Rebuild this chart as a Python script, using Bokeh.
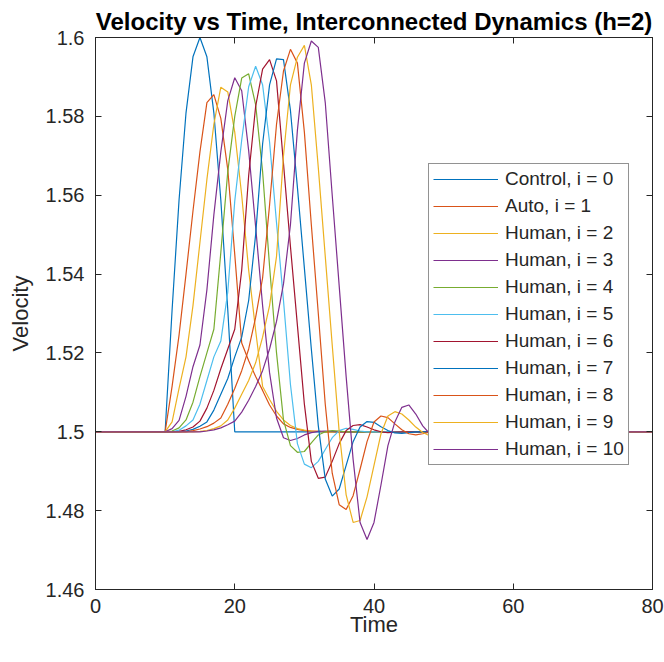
from bokeh.plotting import figure
from bokeh.models import (Range1d, FixedTicker, LinearAxis, CustomJSTickFormatter,
                          Legend, LegendItem)
from bokeh.embed import file_html
from bokeh.resources import INLINE

# ---- data (velocity samples, one per time unit, starting at t = 10) ----
time = list(range(0, 81))
baseline = 1.5
start_t = 10

control_0 = [1.5, 1.5309, 1.5588, 1.5809, 1.5951, 1.6, 1.5951, 1.5809, 1.5588, 1.5309, 1.5]
auto_1 = [1.5, 1.5115, 1.5245, 1.540, 1.556, 1.571, 1.5835, 1.5855, 1.5795, 1.5665,
          1.545, 1.5225, 1.518, 1.514, 1.5105, 1.5068, 1.504, 1.502, 1.5011, 1.5006,
          1.5003, 1.5002, 1.5001, 1.5]
human_2 = [1.5, 1.5025, 1.511, 1.519, 1.532, 1.548, 1.564, 1.578, 1.5874, 1.5862,
           1.576, 1.560, 1.541, 1.5257, 1.5115, 1.5082, 1.5052, 1.503, 1.5016, 1.5008,
           1.5004, 1.5002, 1.5001, 1.5]
human_3 = [1.5, 1.5008, 1.5029, 1.509, 1.5165, 1.522, 1.536, 1.555, 1.571, 1.584,
           1.5898, 1.5865, 1.5713, 1.552, 1.532, 1.515, 1.5035, 1.4985, 1.4978, 1.4983,
           1.4992, 1.4998, 1.5001, 1.5002, 1.5001, 1.5]
human_4 = [1.5, 1.5002, 1.501, 1.503, 1.5075, 1.514, 1.520, 1.526, 1.5455, 1.566,
           1.580, 1.5897, 1.5908, 1.583, 1.566, 1.542, 1.520, 1.503, 1.4965, 1.4948,
           1.495, 1.4972, 1.4992, 1.5, 1.5003, 1.5002, 1.5]
human_5 = [1.5, 1.5, 1.5004, 1.5015, 1.503, 1.507, 1.513, 1.519, 1.523, 1.5355,
           1.5585, 1.574, 1.5875, 1.5927, 1.588, 1.5735, 1.553, 1.5333, 1.512, 1.497,
           1.4918, 1.4909, 1.4925, 1.4955, 1.4985, 1.5003, 1.5009, 1.5006, 1.5002, 1.5]
human_6 = [1.5, 1.5, 1.5001, 1.5005, 1.5012, 1.5027, 1.506, 1.5105, 1.516, 1.521,
           1.526, 1.541, 1.565, 1.5825, 1.592, 1.5944, 1.589, 1.568, 1.547, 1.527,
           1.507, 1.4925, 1.4882, 1.4885, 1.4925, 1.497, 1.5003, 1.5016, 1.5018, 1.5012,
           1.5005, 1.5, 1.4998, 1.4999, 1.5]
human_7 = [1.5, 1.5, 1.5, 1.5002, 1.5006, 1.5014, 1.5025, 1.5055, 1.5095, 1.5135,
           1.519, 1.524, 1.5333, 1.55, 1.573, 1.588, 1.5946, 1.5944, 1.5815, 1.562,
           1.5415, 1.521, 1.5015, 1.488, 1.4837, 1.4855, 1.4915, 1.4975, 1.5012, 1.5026,
           1.5024, 1.5013, 1.5003, 1.4997, 1.4996, 1.4998, 1.5]
human_8 = [1.5, 1.5, 1.5, 1.5, 1.5003, 1.5007, 1.5013, 1.5022, 1.5035, 1.507,
           1.511, 1.5155, 1.521, 1.529, 1.539, 1.5575, 1.578, 1.5915, 1.597, 1.5935,
           1.576, 1.5525, 1.530, 1.507, 1.4895, 1.4815, 1.4803, 1.4838, 1.4905, 1.4975,
           1.5025, 1.504, 1.5036, 1.502, 1.5005, 1.4995, 1.4992, 1.4995, 1.4999, 1.5]
human_9 = [1.5, 1.5, 1.5, 1.5, 1.5, 1.5001, 1.5003, 1.5008, 1.5015, 1.503,
           1.506, 1.5095, 1.513, 1.5175, 1.524, 1.532, 1.5445, 1.570, 1.588, 1.595,
           1.598, 1.588, 1.567, 1.5445, 1.522, 1.500, 1.484, 1.477, 1.4775, 1.4835,
           1.4915, 1.4995, 1.504, 1.5051, 1.5045, 1.503, 1.5012, 1.4998, 1.499, 1.499,
           1.4994, 1.4998, 1.5]
human_10 = [1.5, 1.5, 1.5, 1.5, 1.5, 1.5, 1.5002, 1.5005, 1.501, 1.5018,
            1.5027, 1.505, 1.508, 1.5115, 1.5155, 1.521, 1.528, 1.5375, 1.5525, 1.5765,
            1.5935, 1.5991, 1.5975, 1.5835, 1.560, 1.537, 1.514, 1.493, 1.477, 1.4727,
            1.477, 1.4865, 1.4965, 1.5025, 1.5062, 1.5068, 1.5045, 1.5015, 1.4995, 1.4985,
            1.4986, 1.4992, 1.4997, 1.5]

series = [control_0, auto_1, human_2, human_3, human_4, human_5,
          human_6, human_7, human_8, human_9, human_10]
labels = ["Control, i = 0", "Auto, i = 1", "Human, i = 2", "Human, i = 3",
          "Human, i = 4", "Human, i = 5", "Human, i = 6", "Human, i = 7",
          "Human, i = 8", "Human, i = 9", "Human, i = 10"]
colors = ["#0072BD", "#D95319", "#EDB120", "#7E2F8E", "#77AC30", "#4DBEEE",
          "#A2142F", "#0072BD", "#D95319", "#EDB120", "#7E2F8E"]

x_ticks = [0, 20, 40, 60, 80]
y_ticks = [1.46, 1.48, 1.5, 1.52, 1.54, 1.56, 1.58, 1.6]


def full_series(seg):
    vals = [baseline] * start_t + list(seg)
    vals += [baseline] * (len(time) - len(vals))
    return vals


FONT = "Liberation Sans"
AX = "#262626"

p = figure(width=664, height=662, output_backend="svg", toolbar_location=None,
           x_range=Range1d(0, 80), y_range=Range1d(1.46, 1.6),
           min_border_left=95, min_border_right=12, min_border_top=37,
           min_border_bottom=73)
p.background_fill_color = "white"
p.border_fill_color = "white"
p.outline_line_color = AX
p.outline_line_width = 1
p.xgrid.visible = False
p.ygrid.visible = False

p.title.text = "Velocity vs Time, Interconnected Dynamics (h=2)"
p.title.text_font = FONT
p.title.text_font_size = "24px"
p.title.text_font_style = "bold"
p.title.text_color = "black"
p.title.align = "center"
p.title.standoff = 6

yfmt = CustomJSTickFormatter(code="return String(Number(tick.toFixed(2)));")

for ax in (p.xaxis[0], p.yaxis[0]):
    ax.axis_line_color = AX
    ax.major_tick_line_color = AX
    ax.major_tick_in = 6
    ax.major_tick_out = 0
    ax.minor_tick_line_color = None
    ax.major_label_text_font = FONT
    ax.major_label_text_font_size = "20px"
    ax.major_label_text_color = AX
    ax.axis_label_text_font = FONT
    ax.axis_label_text_font_size = "22px"
    ax.axis_label_text_font_style = "normal"
    ax.axis_label_text_color = AX

p.xaxis[0].ticker = FixedTicker(ticks=x_ticks)
p.yaxis[0].ticker = FixedTicker(ticks=y_ticks)
p.yaxis[0].formatter = yfmt
p.xaxis[0].axis_label = "Time"
p.yaxis[0].axis_label = "Velocity"
p.xaxis[0].major_label_standoff = 9
p.yaxis[0].major_label_standoff = 11
p.xaxis[0].axis_label_standoff = -4
p.yaxis[0].axis_label_standoff = 10

for loc, ticks in (("above", x_ticks), ("right", y_ticks)):
    ax = LinearAxis(ticker=FixedTicker(ticks=ticks))
    ax.axis_line_color = AX
    ax.major_tick_line_color = AX
    ax.major_tick_in = 6
    ax.major_tick_out = 0
    ax.minor_tick_line_color = None
    ax.major_label_text_font_size = "0px"
    ax.major_label_text_color = None
    ax.major_label_standoff = 0
    p.add_layout(ax, loc)

items = []
for seg, lab, col in zip(series, labels, colors):
    r = p.line(time, full_series(seg), line_color=col, line_width=1.2)
    items.append(LegendItem(label=lab, renderers=[r]))

legend = Legend(items=items, location=(333, 124))
legend.border_line_color = AX
legend.border_line_width = 1
legend.background_fill_color = "white"
legend.background_fill_alpha = 1.0
legend.padding = 4
legend.spacing = 5
legend.margin = 0
legend.glyph_width = 65
legend.glyph_height = 20
legend.label_height = 20
legend.label_standoff = 7
legend.label_text_font = FONT
legend.label_text_font_size = "19px"
legend.label_text_color = AX
p.add_layout(legend)

open("out.html", "w").write(file_html(p, INLINE))
